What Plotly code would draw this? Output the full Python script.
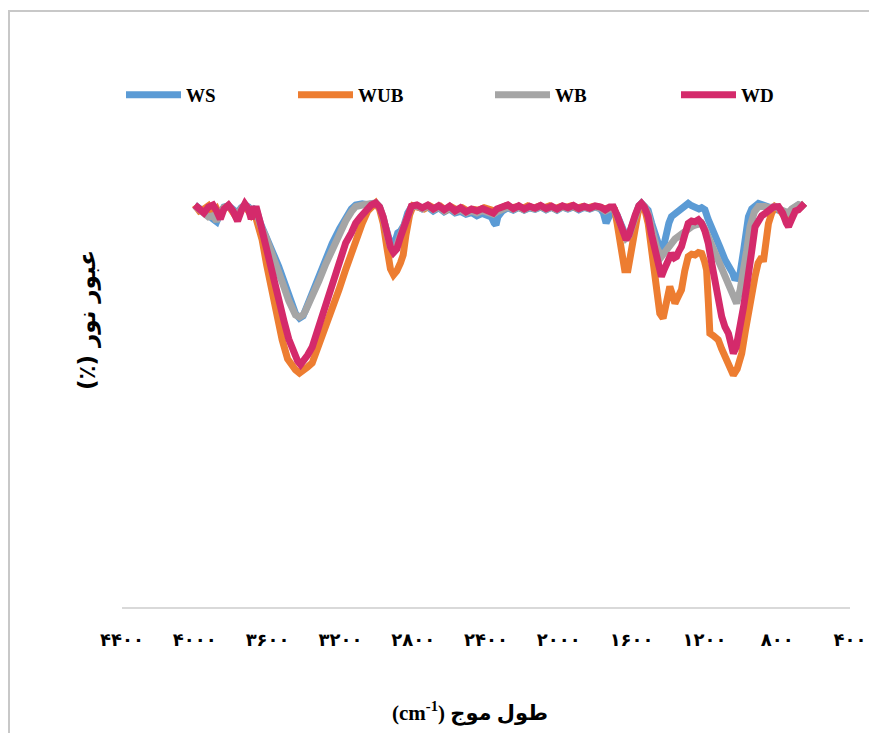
import plotly.graph_objects as go

# ---------------- data ----------------
ws_x = [4000, 3975, 3950, 3925, 3900, 3880, 3860, 3840, 3815, 3790, 3765, 3745, 3725, 3705, 3690, 3675, 3660, 3640, 3612, 3575, 3539, 3510, 3484, 3465, 3447, 3425, 3405, 3392, 3355, 3318, 3280, 3245, 3205, 3171, 3140, 3116, 3080, 3050, 3006, 2985, 2965, 2945, 2925, 2910, 2895, 2885, 2870, 2850, 2830, 2810, 2780, 2750, 2720, 2690, 2660, 2630, 2600, 2570, 2540, 2510, 2480, 2450, 2420, 2390, 2370, 2355, 2345, 2335, 2310, 2280, 2250, 2220, 2190, 2160, 2130, 2100, 2070, 2040, 2010, 1980, 1950, 1920, 1890, 1860, 1830, 1800, 1770, 1755, 1740, 1725, 1700, 1680, 1660, 1645, 1630, 1615, 1600, 1580, 1560, 1546, 1528, 1509, 1490, 1463, 1436, 1420, 1408, 1395, 1381, 1355, 1326, 1308, 1289, 1270, 1252, 1230, 1215, 1197, 1180, 1160, 1142, 1115, 1087, 1068, 1059, 1045, 1032, 1018, 1004, 985, 970, 958, 940, 922, 903, 885, 866, 848, 830, 811, 793, 770, 750, 738, 720, 700, 683, 665, 650]
ws_y = [100.5, 99.8, 99, 98, 97, 96.3, 98.5, 100, 100.3, 99.5, 98.5, 99.8, 100.5, 100, 99, 99.5, 99, 96, 93.4, 89, 85.1, 81, 77.6, 75, 73.4, 72.2, 72.8, 74.2, 78.5, 82.6, 87, 90.9, 94.5, 97.6, 99.5, 100.5, 100.8, 100.6, 101, 100, 97.5, 94, 90.8, 90, 92, 93.5, 94, 95.5, 98.5, 100, 100.3, 99.5, 100, 99, 99.8, 98.8, 99.5, 98.5, 98.9, 98.2, 98.6, 97.8, 98.4, 98, 97.5, 96, 95.5, 97.5, 99, 99.8, 99.2, 99.9, 99.2, 99.8, 99.4, 100, 99.3, 99.9, 99.2, 100, 99.5, 100, 99.3, 99.9, 99.5, 100, 99.5, 98.5, 96, 97.5, 99.3, 98, 95.5, 93.5, 92.6, 93, 95, 98, 100.2, 100.9, 100.3, 99.2, 96, 91.8, 88.4, 91, 94.3, 96, 97.6, 98.5, 99.3, 100, 100.9, 100.3, 99.7, 99.5, 99.8, 99.3, 97, 95, 93.4, 90, 86.8, 85.5, 85.1, 83.5, 81.8, 82.5, 83.4, 89, 94, 97.6, 99.5, 100.5, 100.9, 100.6, 100.5, 100, 99.5, 99.8, 99.2, 99, 98.8, 98.5, 99.3, 100, 100.5, 100.2, 100.9]

wub_x = [4000, 3975, 3950, 3925, 3900, 3880, 3860, 3840, 3815, 3790, 3765, 3745, 3725, 3705, 3690, 3675, 3667, 3650, 3630, 3605, 3578, 3550, 3520, 3490, 3465, 3447, 3425, 3405, 3380, 3355, 3330, 3300, 3282, 3245, 3208, 3170, 3135, 3105, 3080, 3050, 3025, 3006, 2985, 2965, 2945, 2925, 2908, 2890, 2870, 2855, 2840, 2820, 2800, 2770, 2740, 2710, 2680, 2650, 2620, 2590, 2560, 2530, 2500, 2470, 2440, 2410, 2380, 2350, 2320, 2290, 2260, 2230, 2200, 2170, 2140, 2110, 2080, 2050, 2020, 1990, 1960, 1930, 1900, 1870, 1840, 1810, 1780, 1750, 1720, 1693, 1680, 1665, 1650, 1638, 1620, 1600, 1583, 1565, 1546, 1528, 1509, 1490, 1472, 1458, 1445, 1427, 1410, 1390, 1375, 1362, 1345, 1326, 1308, 1289, 1270, 1252, 1233, 1215, 1200, 1188, 1178, 1170, 1150, 1124, 1105, 1087, 1065, 1041, 1020, 995, 975, 958, 940, 922, 905, 894, 885, 876, 862, 848, 830, 811, 790, 770, 750, 738, 720, 700, 683, 665, 650]
wub_y = [100.5, 99, 99.5, 100.3, 98.5, 99.5, 97.5, 99.8, 100.3, 98.8, 97, 99.5, 100.5, 99, 98, 99, 97.6, 94.5, 91.8, 85.5, 79.3, 73, 66.8, 62, 60, 59.3, 58.5, 59, 60, 61, 64, 67.3, 69.3, 74.5, 79.3, 84.5, 89.3, 93, 95.9, 99, 100.5, 101, 99.5, 96, 90, 84.5, 83, 84, 86, 88, 93, 98, 100.3, 100, 99.5, 100.3, 99.6, 100.2, 99.2, 100, 99.3, 99.8, 99, 99.4, 99.2, 99.8, 99.3, 99, 99.7, 100.3, 99.8, 100.1, 99.6, 100.3, 99.7, 100.2, 99.8, 100.3, 99.6, 100.1, 99.9, 100.3, 99.7, 100.1, 99.8, 100.2, 100, 99.6, 99.8, 99.3, 96, 91.8, 87.5, 84.3, 84.3, 89.5, 94.3, 98.5, 100.9, 99.5, 95.9, 89, 81.8, 76.5, 73.4, 72.2, 76, 80.1, 78, 75.9, 77.5, 79.3, 84, 87.6, 88.2, 88, 88.6, 88.4, 86.5, 84.3, 76, 68.4, 67.8, 66.8, 64.5, 62.6, 60.5, 58, 59.5, 63.4, 69, 74.3, 79, 82.6, 86, 87.6, 87.5, 86.3, 91, 95.9, 98.5, 100.1, 99.5, 98, 97, 96.8, 98, 99.3, 99.5, 100, 100.9]

wb_x = [4000, 3975, 3950, 3925, 3900, 3880, 3860, 3840, 3815, 3790, 3765, 3745, 3725, 3705, 3690, 3675, 3660, 3640, 3612, 3575, 3539, 3510, 3484, 3465, 3447, 3425, 3405, 3392, 3355, 3318, 3280, 3245, 3205, 3171, 3140, 3116, 3080, 3050, 3006, 2985, 2965, 2945, 2925, 2908, 2890, 2870, 2850, 2830, 2810, 2780, 2750, 2720, 2690, 2660, 2630, 2600, 2570, 2540, 2510, 2480, 2450, 2420, 2390, 2360, 2340, 2310, 2280, 2250, 2220, 2190, 2160, 2130, 2100, 2070, 2040, 2010, 1980, 1950, 1920, 1890, 1860, 1830, 1800, 1770, 1745, 1720, 1700, 1680, 1660, 1645, 1630, 1615, 1600, 1580, 1560, 1546, 1528, 1509, 1490, 1463, 1436, 1420, 1400, 1381, 1362, 1344, 1326, 1308, 1290, 1270, 1250, 1233, 1215, 1197, 1179, 1160, 1142, 1124, 1105, 1087, 1068, 1045, 1023, 1005, 986, 968, 949, 925, 903, 885, 866, 848, 830, 811, 793, 770, 750, 738, 720, 700, 683, 665, 650]
wb_y = [100.3, 99.5, 98.5, 97.5, 97.8, 96.5, 98.5, 99.8, 100.3, 99.3, 98, 99.5, 100.4, 99.8, 98.8, 99.3, 98.6, 95.5, 92.8, 88.2, 84.2, 80, 76.6, 74.3, 73, 72.5, 73, 74, 77.5, 81.5, 85.8, 89.5, 93.5, 96.5, 98.8, 100.1, 100.5, 100.6, 101, 100, 97.5, 93.5, 90, 89.2, 90.5, 93, 95.8, 98.6, 100, 100.3, 99.6, 100.2, 99.3, 100, 99, 99.8, 98.8, 99.3, 98.5, 99, 98.5, 99.1, 98.6, 98.2, 98.8, 99.3, 100, 99.4, 100, 99.3, 100, 99.5, 100.2, 99.4, 100, 99.3, 100.1, 99.6, 100.2, 99.5, 100, 99.6, 100.1, 99.7, 99, 99.5, 99.8, 97.8, 95, 93, 92.2, 92.8, 95, 97.8, 100.1, 100.9, 100.1, 98.3, 94, 90, 87.6, 88.5, 90.2, 90.9, 92, 92.6, 93.3, 93.8, 94.6, 95.1, 95.5, 95.6, 95.9, 94.5, 92.6, 90.5, 88.7, 86.8, 84.5, 82.5, 80.1, 77.8, 75.9, 79, 83.4, 89, 95.1, 98.8, 100.1, 100.3, 100.1, 99.8, 100, 100.1, 99.6, 99.3, 98.8, 98.5, 99.5, 100.2, 100.6, 100.3, 100.9]

wd_x = [4000, 3975, 3950, 3925, 3900, 3880, 3860, 3840, 3815, 3790, 3765, 3745, 3725, 3705, 3690, 3675, 3660, 3640, 3620, 3594, 3565, 3539, 3510, 3484, 3455, 3435, 3419, 3400, 3380, 3355, 3330, 3300, 3275, 3245, 3210, 3171, 3140, 3116, 3090, 3061, 3030, 3006, 2985, 2965, 2945, 2925, 2908, 2890, 2870, 2850, 2830, 2810, 2780, 2750, 2720, 2690, 2660, 2630, 2600, 2570, 2540, 2510, 2480, 2450, 2420, 2390, 2360, 2340, 2310, 2280, 2250, 2220, 2190, 2160, 2130, 2100, 2070, 2040, 2010, 1980, 1950, 1920, 1890, 1860, 1830, 1800, 1770, 1745, 1720, 1700, 1680, 1660, 1645, 1630, 1615, 1600, 1580, 1560, 1546, 1530, 1509, 1490, 1472, 1455, 1436, 1420, 1408, 1395, 1381, 1365, 1353, 1340, 1326, 1308, 1289, 1270, 1252, 1233, 1215, 1197, 1179, 1160, 1142, 1124, 1105, 1087, 1068, 1055, 1041, 1025, 1004, 985, 968, 958, 940, 922, 900, 885, 866, 845, 820, 793, 770, 750, 738, 720, 700, 683, 665, 650]
wd_y = [100.5, 99.5, 98.5, 100, 100.5, 99, 97, 99.5, 100.5, 99, 96.5, 99, 100.8, 99.5, 97, 99.5, 99.5, 96, 92, 87.6, 82, 77, 71.5, 67, 63.5, 61.5, 60.6, 61.5, 63, 65, 68.5, 72.6, 76.5, 81, 86.5, 91, 93.5, 96, 97.5, 99.2, 100.5, 101, 100, 97.5, 93.5, 90, 88.6, 89.5, 92.5, 95.5, 98.5, 100.2, 100.5, 99.8, 100.5, 99.5, 100.3, 99.3, 100.2, 99, 99.8, 98.8, 99.5, 99, 99.6, 99, 98.5, 99.5, 99.8, 100.5, 99.6, 100.3, 99.5, 100.2, 99.7, 100.4, 99.6, 100.2, 99.5, 100.3, 99.8, 100.4, 99.6, 100.2, 99.7, 100.3, 100, 99.3, 100, 100, 98, 95.5, 93, 91.8, 93, 95.5, 98, 100.3, 100.9, 100, 97.6, 93, 89.3, 85.5, 82.6, 84.5, 86, 87.5, 88.4, 87.3, 87.6, 89, 90.1, 93, 95.9, 96.5, 96.3, 96.8, 95.9, 94, 91, 86, 81, 76.5, 72.6, 70, 68.4, 66, 63.4, 65, 69.3, 75, 80, 82.6, 89, 95, 97, 97.8, 98.4, 99.2, 100, 100.1, 98.5, 96, 95.1, 97, 99, 99.3, 100.2, 100.9]

series_names = ["WS", "WUB", "WB", "WD"]
series_colors = ["#5B9BD5", "#ED7D31", "#A5A5A5", "#D42A6B"]

tick_vals = [4400, 4000, 3600, 3200, 2800, 2400, 2000, 1600, 1200, 800, 400]
tick_text = ["۴۴۰۰", "۴۰۰۰", "۳۶۰۰", "۳۲۰۰", "۲۸۰۰", "۲۴۰۰", "۲۰۰۰", "۱۶۰۰", "۱۲۰۰", "۸۰۰", "۴۰۰"]

x_title = "(cm<sup>-1</sup>) طول موج"
y_title = "(٪) عبور نور"

# ---------------- figure ----------------
OFF = 8  # page body margin of the html page
W, H = 869, 725
L, R, T, B = 114, 27, 25, 126
pw, ph = W - L - R, H - T - B

def px_x(p):
    return (p - OFF - L) / pw

def px_y(p):
    return (H - B - (p - OFF)) / ph

legend_ids = ["legend", "legend2", "legend3", "legend4"]
legend_left = [121, 293, 490, 676]   # page x of each legend entry

fig = go.Figure()
for name, color, xs, ys, lid in zip(series_names, series_colors,
                                    [ws_x, wub_x, wb_x, wd_x],
                                    [ws_y, wub_y, wb_y, wd_y], legend_ids):
    fig.add_trace(go.Scatter(x=xs, y=ys, mode="lines", name=name, legend=lid,
                             line=dict(color=color, width=7)))

legend_font = dict(family="Liberation Serif, serif", size=19, weight="bold", color="black")
legend_layout = {}
for lid, lx in zip(legend_ids, legend_left):
    legend_layout[lid] = dict(orientation="h", x=px_x(lx), xanchor="left",
                              y=px_y(95), yanchor="middle", itemwidth=55,
                              font=legend_font, bgcolor="rgba(0,0,0,0)")

fig.update_layout(
    width=W, height=H,
    margin=dict(l=L, r=R, t=T, b=B),
    paper_bgcolor="white", plot_bgcolor="white",
    font=dict(family="Liberation Serif, DejaVu Sans, serif", color="black"),
    showlegend=True,
    **legend_layout,
    xaxis=dict(range=[4400, 400], showgrid=False, zeroline=False,
               showline=True, linecolor="#D9D9D9", linewidth=1.5,
               tickmode="array", tickvals=tick_vals, ticktext=tick_text,
               ticks="outside", ticklen=16, tickcolor="rgba(0,0,0,0)",
               tickfont=dict(family="DejaVu Sans, sans-serif", size=18, weight="bold", color="black")),
    yaxis=dict(range=[0, 143.5], showgrid=False, zeroline=False, showline=False,
               showticklabels=False, ticks="",
               title=dict(text=y_title, standoff=18,
                          font=dict(family="DejaVu Sans, sans-serif", size=23, weight="bold", color="black"))),
)

# x-axis title placed where the reference shows it
fig.add_annotation(text=x_title, xref="paper", yref="paper",
                   x=px_x(470), y=px_y(712), xanchor="center", yanchor="middle",
                   showarrow=False,
                   font=dict(family="Liberation Serif, DejaVu Sans, serif", size=21, weight="bold", color="black"))

# chart-area border (partly outside the picture, as in the reference)
fig.add_shape(type="rect", xref="paper", yref="paper",
              x0=px_x(9), x1=px_x(900), y0=px_y(780), y1=px_y(11),
              line=dict(color="#C8C8C8", width=2), fillcolor="rgba(0,0,0,0)", layer="below")

fig.write_html("out.html")
